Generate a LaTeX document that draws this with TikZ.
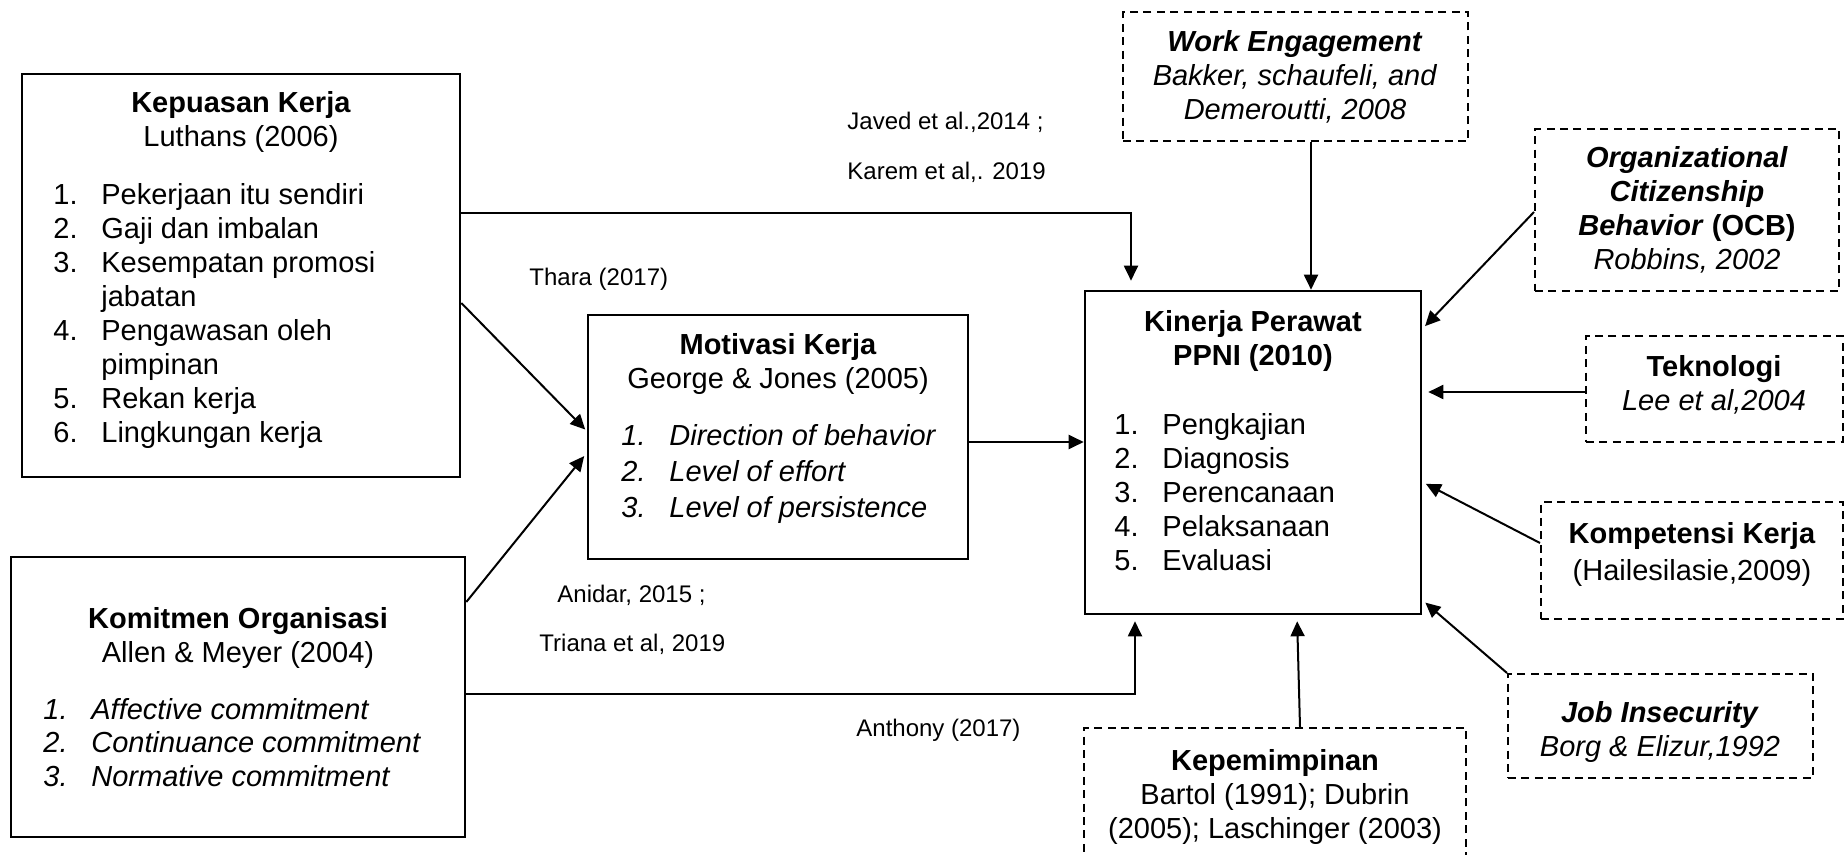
\documentclass[tikz,border=0pt]{standalone}
\usepackage{fontspec}
\setmainfont{Liberation Sans}
\usepackage{array}
\usetikzlibrary{arrows.meta,fit}

\newcommand{\lines}[1]{\begin{tabular}[t]{@{}c@{}}#1\end{tabular}}
\newcommand{\items}[1]{\begin{tabular}[t]{@{}w{l}{24pt}@{}l@{}}#1\end{tabular}}

\tikzset{
  box/.style={draw, line width=1.3pt, inner sep=0pt, fit={#1}},
  dbox/.style={draw, line width=1pt, dash pattern=on 4pt off 2.7pt, inner sep=0pt, fit={#1}},
  txt/.style={anchor=base, inner sep=0pt, font=\fontsize{14.5}{17}\selectfont},
  lst/.style={anchor=base west, inner sep=0pt, font=\fontsize{14.5}{17}\selectfont},
  ilst/.style={lst, font=\fontsize{14.5}{16.8}\selectfont\itshape},
  cite/.style={anchor=base west, inner sep=0pt, font=\fontsize{12}{14}\selectfont},
  arr/.style={-{Triangle[length=7.5pt,width=7pt]}, line width=1pt},
}

\begin{document}
\begin{tikzpicture}[x=0.5pt, y=-0.5pt]
  \useasboundingbox (0,0) rectangle (1847,855);
  \clip (0,0) rectangle (1847,855);

  % main boxes
  \node[box={(22,74) (460,477)}] (kepuasan) {};
  \node[box={(11,557) (465,837)}] (komitmen) {};
  \node[box={(588,315) (968,559)}] (motivasi) {};
  \node[box={(1085,291) (1421,614)}] (kinerja) {};

  % dashed boxes
  \node[dbox={(1123,12) (1468,141)}] (engage) {};
  \node[dbox={(1535,129) (1839,291)}] (ocb) {};
  \node[dbox={(1586,336) (1843,442)}] (tekno) {};
  \node[dbox={(1541,502) (1843,619)}] (kompet) {};
  \node[dbox={(1508,674) (1813,778)}] (insec) {};
  \node[dbox={(1084,728) (1466,880)}] (pimpin) {};

  % box texts
  \node[txt] (kepuasan-t) at (241,113) {\lines{\textbf{Kepuasan Kerja}\\Luthans (2006)}};
  \node[lst] (kepuasan-l) at (53,205) {\items{1. & Pekerjaan itu sendiri\\ 2. & Gaji dan imbalan\\
    3. & Kesempatan promosi\\ & jabatan\\ 4. & Pengawasan oleh\\ & pimpinan\\
    5. & Rekan kerja\\ 6. & Lingkungan kerja}};

  \node[txt] (komitmen-t) at (238,628) {\lines{\textbf{Komitmen Organisasi}\\Allen \& Meyer (2004)}};
  \node[ilst] (komitmen-l) at (43,719) {\items{1. & Affective commitment\\
    2. & Continuance commitment\\ 3. & Normative commitment}};

  \node[txt] (motivasi-t) at (778,355) {\lines{\textbf{Motivasi Kerja}\\George \& Jones (2005)}};
  \node[ilst, font=\fontsize{14.5}{18.2}\selectfont\itshape] (motivasi-l) at (621,445)
    {\items{1. & Direction of behavior\\ 2. & Level of effort\\ 3. & Level of persistence}};

  \node[txt] (kinerja-t) at (1253,332) {\lines{\textbf{Kinerja Perawat}\\\textbf{PPNI (2010)}}};
  \node[lst] (kinerja-l) at (1114,435) {\items{1. & Pengkajian\\ 2. & Diagnosis\\
    3. & Perencanaan\\ 4. & Pelaksanaan\\ 5. & Evaluasi}};

  \node[txt] (engage-t) at (1295,52) {\lines{\textbf{\textit{Work Engagement}}\\
    \textit{Bakker, schaufeli, and}\\\textit{Demeroutti, 2008}}};
  \node[txt] (ocb-t) at (1687,168) {\lines{\textbf{\textit{Organizational}}\\
    \textbf{\textit{Citizenship}}\\\textbf{\textit{Behavior} (OCB)}\\\textit{Robbins, 2002}}};
  \node[txt] (tekno-t) at (1714,377) {\lines{\textbf{Teknologi}\\\textit{Lee et al,2004}}};
  \node[txt] (kompet-t) at (1692,543) {\lines{\textbf{Kompetensi Kerja}\\[1.5pt](Hailesilasie,2009)}};
  \node[txt] (insec-t) at (1660,722) {\lines{\textbf{\textit{Job Insecurity}}\\\textit{Borg \& Elizur,1992}}};
  \node[txt] (pimpin-t) at (1275,770) {\lines{\textbf{Kepemimpinan}\\
    Bartol (1991); Dubrin\\(2005); Laschinger (2003)}};

  % references on the paths
  \node[cite] (javed) at (847,130) {Javed et al.,2014 ;};
  \node[cite] (karem) at (847,180) {Karem et al,. 2019};
  \node[cite] (thara) at (529,286) {Thara (2017)};
  \node[cite] (anidar) at (557,602) {Anidar, 2015 ;};
  \node[cite] (triana) at (539,651) {Triana et al, 2019};
  \node[cite] (anthony) at (856,736) {Anthony (2017)};

  % arrows
  \draw[arr, shorten >=4.5pt] (kepuasan.east |- 0,213) -| (1131,0 |- kinerja.north);
  \draw[arr] (engage.south -| 1311,0) -- (1311,0 |- kinerja.north);
  \draw[arr, shorten >=1pt] (kepuasan.east |- 0,303) -- (motivasi.west |- 0,431);
  \draw[arr, shorten >=2pt] (komitmen.east |- 0,602) -- (motivasi.west |- 0,453);
  \draw[arr] (motivasi.east |- 0,442) -- (kinerja.west |- 0,442);
  \draw[arr, shorten >=3pt] (komitmen.east |- 0,694) -| (1135,0 |- kinerja.south);
  \draw[arr, shorten >=2pt] (ocb.west |- 0,212) -- (kinerja.east |- 0,329);
  \draw[arr, shorten >=3pt] (tekno.west |- 0,392) -- (kinerja.east |- 0,392);
  \draw[arr, shorten >=2pt] (kompet.west |- 0,543) -- (kinerja.east |- 0,482);
  \draw[arr, shorten >=2pt] (insec.north west) -- (kinerja.east |- 0,600);
  \draw[arr, shorten >=3pt] (pimpin.north -| 1300,0) -- (1297,0 |- kinerja.south);
\end{tikzpicture}
\end{document}
